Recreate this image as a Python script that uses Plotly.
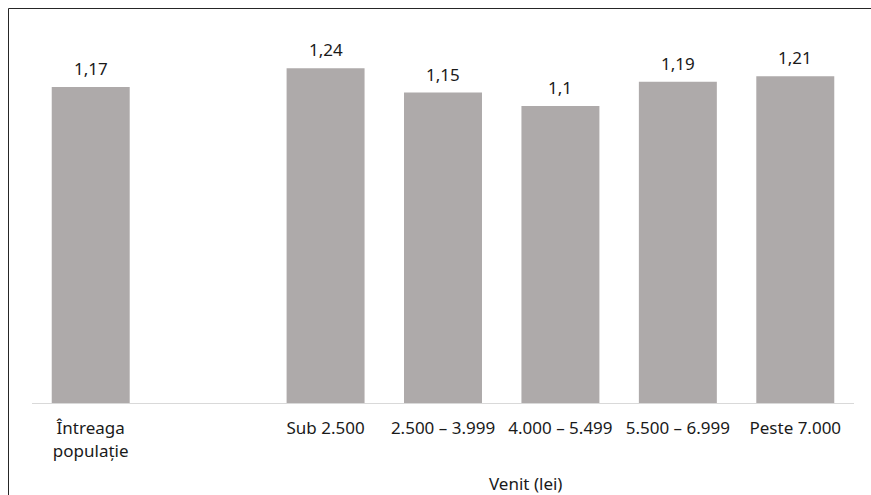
import plotly.graph_objects as go

categories = ["Întreaga<br>populație", "Sub 2.500", "2.500 – 3.999", "4.000 – 5.499", "5.500 – 6.999", "Peste 7.000"]
positions = [0, 2, 3, 4, 5, 6]
values = [1.17, 1.24, 1.15, 1.1, 1.19, 1.21]
labels = ["1,17", "1,24", "1,15", "1,1", "1,19", "1,21"]
axis_title = "Venit (lei)"

FONT = "Noto Sans"
TXT = "#1a1a1a"

L, T = 32, 25
PW, PH = 822, 378

fig = go.Figure()
fig.add_trace(go.Bar(
    x=positions, y=values, width=0.664,
    marker=dict(color="#aeaaaa", line=dict(width=0)),
    hoverinfo="skip",
))

for xp, v, t in zip(positions, values, labels):
    fig.add_annotation(x=xp, y=v, text=t, showarrow=False, xref="x", yref="y",
                       yanchor="bottom", yshift=5,
                       font=dict(family=FONT, size=17, color=TXT))

fig.add_annotation(x=0.6, y=(403 - 484) / PH, xref="paper", yref="paper", text=axis_title,
                   showarrow=False, xanchor="center", yanchor="middle",
                   font=dict(family=FONT, size=17, color=TXT))

# outer border (top and left visible)
bx = (8.5 - L) / PW
by = (PH + T - 8.5) / PH
fig.add_shape(type="line", xref="paper", yref="paper",
              x0=bx, x1=(871 - L) / PW, y0=by, y1=by,
              line=dict(color="#262626", width=1))
fig.add_shape(type="line", xref="paper", yref="paper",
              x0=bx, x1=bx, y0=by, y1=(PH + T - 495) / PH,
              line=dict(color="#262626", width=1))

fig.update_layout(
    width=871, height=495,
    margin=dict(l=L, r=17, t=T, b=92),
    paper_bgcolor="white", plot_bgcolor="white",
    showlegend=False,
    font=dict(family=FONT, size=17, color=TXT),
    xaxis=dict(range=[-0.5, 6.5], tickmode="array", tickvals=positions, ticktext=categories,
               showgrid=False, zeroline=False, showline=True, linecolor="#d9d9d9", linewidth=1,
               ticks="", ticklabelstandoff=10, tickfont=dict(family=FONT, size=17, color=TXT),
               fixedrange=True),
    yaxis=dict(range=[0, 1.4], visible=False, fixedrange=True),
)

fig.write_html(
    "out.html",
    config={"displayModeBar": False, "responsive": False},
    post_script=(
        "document.documentElement.style.overflow='hidden';"
        "document.body.style.margin='0';document.body.style.overflow='hidden';"
    ),
)
